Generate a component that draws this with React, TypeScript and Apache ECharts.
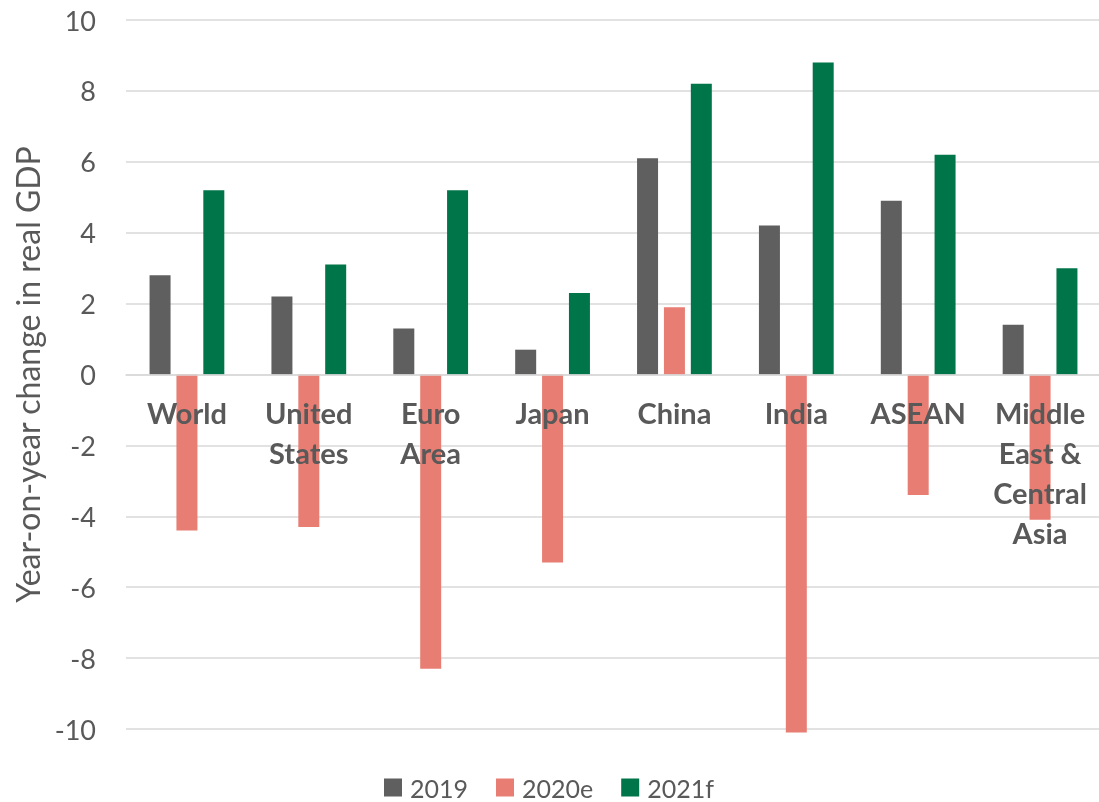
import React, { useEffect, useRef } from "react";
import * as echarts from "echarts";

const categories = ["World", "United States", "Euro Area", "Japan", "China", "India", "ASEAN", "Middle East & Central Asia"];
const categoryLabels = ["World", "United\nStates", "Euro\nArea", "Japan", "China", "India", "ASEAN", "Middle\nEast &\nCentral\nAsia"];
const values2019 = [2.8, 2.2, 1.3, 0.7, 6.1, 4.2, 4.9, 1.4];
const values2020e = [-4.4, -4.3, -8.3, -5.3, 1.9, -10.1, -3.4, -4.1];
const values2021f = [5.2, 3.1, 5.2, 2.3, 8.2, 8.8, 6.2, 3.0];
const seriesNames = ["2019", "2020e", "2021f"];
const colors = ["#5f5f5f", "#e87e73", "#00754a"];
const yTitle = "Year-on-year change in real GDP";
const yMin = -10;
const yMax = 10;
const yStep = 2;

export default function App() {
  const ref = useRef<HTMLDivElement>(null);
  useEffect(() => {
    if (!ref.current) return;
    const chart = echarts.init(ref.current, null, { renderer: "svg" });
    const font = "Lato";
    const textColor = "#595959";
    const gridTop = 20;
    const gridHeight = 709;
    const zeroOffset = -gridHeight * (0 - yMin) / (yMax - yMin);
    const seriesData = [values2019, values2020e, values2021f];
    chart.setOption({
      animation: false,
      textStyle: { fontFamily: font },
      grid: { left: 126, top: gridTop, width: 975, height: gridHeight, containLabel: false, outerBoundsMode: "none" },
      legend: {
        left: 384,
        top: 775,
        padding: 0,
        icon: "rect",
        itemWidth: 18,
        itemHeight: 18,
        itemGap: 28,
        textStyle: { fontFamily: font, fontSize: 25, lineHeight: 20, color: textColor, padding: [0, 0, 0, 3] },
        data: seriesNames,
      },
      xAxis: {
        type: "category",
        data: categories,
        z: 10,
        position: "bottom",
        offset: zeroOffset,
        axisLine: { show: true, onZero: false, lineStyle: { color: "#d9d9d9", width: 1.5 } },
        axisTick: { show: false },
        axisLabel: {
          interval: 0,
          margin: 18,
          fontFamily: font,
          fontSize: 29,
          fontWeight: "bold",
          lineHeight: 40,
          color: textColor,
          formatter: (_v: string, i: number) => categoryLabels[i],
        },
      },
      yAxis: {
        type: "value",
        min: yMin,
        max: yMax,
        interval: yStep,
        name: yTitle,
        nameLocation: "middle",
        nameGap: 78,
        nameTextStyle: { fontFamily: font, fontSize: 32, color: textColor },
        axisLine: { show: false },
        axisTick: { show: false },
        axisLabel: { margin: 30, fontFamily: font, fontSize: 27, color: textColor },
        splitLine: { lineStyle: { color: "#d9d9d9", width: 1.5 } },
      },
      series: seriesNames.map((name, k) => ({
        name,
        type: "bar",
        data: seriesData[k],
        barWidth: 21,
        barGap: "28%",
        clip: false,
        itemStyle: { color: colors[k] },
      })),
    });
    return () => chart.dispose();
  }, []);
  return <div ref={ref} style={{ position: "fixed", left: 0, top: 0, width: 1099, height: 802 }} />;
}
